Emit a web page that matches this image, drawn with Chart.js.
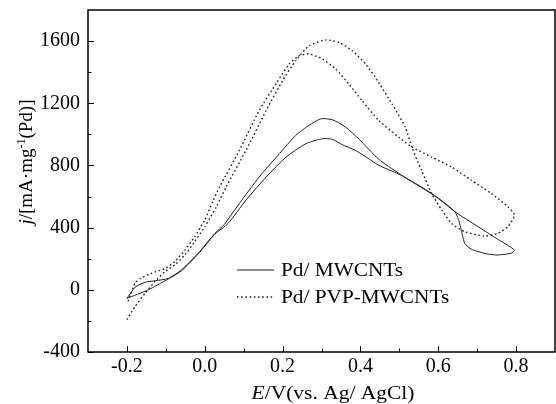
<!DOCTYPE html>
<html>
<head>
<meta charset="utf-8">
<script src="https://cdn.jsdelivr.net/npm/chart.js@4"></script>
<style>
  html, body { margin: 0; padding: 0; background: #fff; }
  canvas { display: block; }
</style>
</head>
<body>
<canvas id="cvChart" width="556" height="404"></canvas>
<script>
// tick labels
const eTicks = [-0.2, 0, 0.2, 0.4, 0.6, 0.8];
const jTicks = [-400, 0, 400, 800, 1200, 1600];
const eMinor = [-0.1, 0.1, 0.3, 0.5, 0.7];
const jMinor = [-200, 200, 600, 1000, 1400];

const seriesNames = ["Pd/ MWCNTs", "Pd/ PVP-MWCNTs"];

// Pd/MWCNTs loop (potential in V, current density)
const mwE = [-0.2, -0.179, -0.153, -0.128, -0.094, -0.06, -0.017, 0.026, 0.05, 0.089, 0.14, 0.192, 0.234, 0.268, 0.298, 0.328, 0.362, 0.396, 0.447, 0.498, 0.55, 0.6, 0.643, 0.655, 0.668, 0.685, 0.702, 0.728, 0.753, 0.787, 0.796, 0.75, 0.7, 0.643, 0.62, 0.583, 0.55, 0.498, 0.447, 0.421, 0.387, 0.353, 0.328, 0.302, 0.26, 0.209, 0.158, 0.106, 0.06, 0.026, -0.017, -0.06, -0.098, -0.145, -0.2];
const mwJ = [-55, 17, 49, 58, 73, 128, 235, 363, 420, 556, 726, 876, 994, 1058, 1100, 1094, 1047, 970, 840, 750, 668, 590, 502, 427, 299, 262, 246, 230, 224, 235, 256, 330, 410, 502, 548, 620, 672, 745, 801, 844, 897, 934, 968, 972, 940, 854, 726, 577, 427, 358, 230, 122, 64, 0, -55];

// Pd/PVP-MWCNTs loop
const pvpE = [-0.2, -0.179, -0.153, -0.128, -0.102, -0.077, -0.051, -0.026, 0, 0.03, 0.055, 0.106, 0.158, 0.2, 0.234, 0.268, 0.311, 0.345, 0.379, 0.413, 0.438, 0.481, 0.515, 0.532, 0.557, 0.583, 0.609, 0.634, 0.668, 0.719, 0.753, 0.779, 0.796, 0.779, 0.736, 0.685, 0.634, 0.583, 0.532, 0.498, 0.447, 0.404, 0.37, 0.336, 0.302, 0.268, 0.243, 0.217, 0.183, 0.14, 0.089, 0.038, 0.022, 0, -0.026, -0.051, -0.077, -0.102, -0.136, -0.166, -0.179, -0.191, -0.197];
const pvpJ = [-192, -107, -21, 53, 117, 160, 224, 310, 406, 534, 662, 897, 1154, 1346, 1474, 1570, 1607, 1592, 1538, 1453, 1367, 1197, 1047, 919, 769, 620, 513, 428, 374, 346, 363, 406, 481, 534, 620, 705, 790, 854, 919, 983, 1090, 1218, 1325, 1421, 1485, 1517, 1506, 1453, 1325, 1154, 897, 662, 577, 449, 342, 256, 182, 137, 107, 72, 43, -32, -75];

const serif = "'Liberation Serif', 'Times New Roman', serif";

function toPoints(xs, ys) {
    return xs.map((x, i) => ({ x: x, y: ys[i] }));
}

// the source figure's text is a bit wider than the font, so stretch it
function wideText(ctx, text, x, y, sx) {
    ctx.save();
    ctx.translate(x, y);
    ctx.scale(sx, 1);
    ctx.fillText(text, 0, 0);
    ctx.restore();
}

const framePlugin = {
    id: 'frame',
    afterDraw(chart) {
        const ctx = chart.ctx;
        const a = chart.chartArea;
        const xs = chart.scales.x;
        const ys = chart.scales.y;
        ctx.save();
        ctx.strokeStyle = '#000';
        ctx.lineWidth = 1.5;
        ctx.strokeRect(a.left, a.top, a.right - a.left, a.bottom - a.top);

        // inward ticks
        ctx.lineWidth = 1;
        ctx.beginPath();
        eTicks.forEach(v => {
            let px = Math.round(xs.getPixelForValue(v)) + 0.5;
            ctx.moveTo(px, a.bottom); ctx.lineTo(px, a.bottom - 6);
        });
        eMinor.forEach(v => {
            let px = Math.round(xs.getPixelForValue(v)) + 0.5;
            ctx.moveTo(px, a.bottom); ctx.lineTo(px, a.bottom - 3.5);
        });
        jTicks.forEach(v => {
            let py = Math.round(ys.getPixelForValue(v)) + 0.5;
            ctx.moveTo(a.left, py); ctx.lineTo(a.left + 6, py);
        });
        jMinor.forEach(v => {
            let py = Math.round(ys.getPixelForValue(v)) + 0.5;
            ctx.moveTo(a.left, py); ctx.lineTo(a.left + 3.5, py);
        });
        ctx.stroke();

        // legend
        ctx.fillStyle = '#000';
        ctx.font = '19px ' + serif;
        ctx.textBaseline = 'middle';
        chart.data.datasets.forEach((ds, i) => {
            let y = a.top + 260 + i * 27;
            ctx.strokeStyle = ds.borderColor;
            ctx.lineWidth = ds.borderWidth;
            ctx.setLineDash(ds.borderDash || []);
            ctx.beginPath();
            ctx.moveTo(a.left + 149, y);
            ctx.lineTo(a.left + 186, y);
            ctx.stroke();
            ctx.setLineDash([]);
            wideText(ctx, ds.label, a.left + 193, y + 1, 1.12);
        });

        // x title
        ctx.textBaseline = 'alphabetic';
        const sx = 1.13;
        let xt1 = 'E', xt2 = '/V(vs. Ag/ AgCl)';
        ctx.font = 'italic 19px ' + serif;
        let w1 = ctx.measureText(xt1).width * sx;
        ctx.font = '19px ' + serif;
        let w2 = ctx.measureText(xt2).width * sx;
        let xs0 = 333 - (w1 + w2) / 2;
        ctx.font = 'italic 19px ' + serif;
        wideText(ctx, xt1, xs0, 399, sx);
        ctx.font = '19px ' + serif;
        wideText(ctx, xt2, xs0 + w1, 399, sx);

        // y title
        const parts = [
            { t: 'j', f: 'italic 19px ' + serif, dy: 0 },
            { t: '/[mA·mg', f: '19px ' + serif, dy: 0 },
            { t: '-1', f: '12px ' + serif, dy: -7 },
            { t: '(Pd)]', f: '19px ' + serif, dy: 0 }
        ];
        let total = 0;
        parts.forEach(p => { ctx.font = p.f; p.w = ctx.measureText(p.t).width; total += p.w; });
        ctx.translate(32, 162 + total / 2);
        ctx.rotate(-Math.PI / 2);
        let cx = 0;
        parts.forEach(p => {
            ctx.font = p.f;
            ctx.fillText(p.t, cx, p.dy);
            cx += p.w;
        });
        ctx.restore();
    }
};

new Chart(document.getElementById('cvChart'), {
    type: 'line',
    data: {
        datasets: [{
            label: seriesNames[0],
            data: toPoints(mwE, mwJ),
            borderColor: '#222',
            borderWidth: 1,
            pointRadius: 0,
            tension: 0.2,
            fill: false
        }, {
            label: seriesNames[1],
            data: toPoints(pvpE, pvpJ),
            borderColor: '#222',
            borderWidth: 1.4,
            borderDash: [1.6, 2.6],
            pointRadius: 0,
            tension: 0.2,
            fill: false
        }]
    },
    options: {
        responsive: false,
        animation: false,
        devicePixelRatio: 1,
        layout: { padding: { top: 10, right: 1, left: 0, bottom: 0 } },
        plugins: { legend: { display: false }, tooltip: { enabled: false } },
        scales: {
            x: {
                type: 'linear',
                min: -0.3,
                max: 0.9,
                afterBuildTicks: s => { s.ticks = eTicks.map(v => ({ value: v })); },
                afterFit: s => { s.height = 52; s.paddingLeft = 0; s.paddingRight = 0; },
                grid: { display: false, drawTicks: false },
                border: { display: false },
                ticks: {
                    color: '#000',
                    font: { family: serif, size: 20 },
                    padding: 3,
                    maxRotation: 0,
                    autoSkip: false,
                    callback: v => v.toFixed(1)
                }
            },
            y: {
                type: 'linear',
                min: -400,
                max: 1800,
                afterBuildTicks: s => { s.ticks = jTicks.map(v => ({ value: v })); },
                afterFit: s => { s.width = 88; s.paddingTop = 0; s.paddingBottom = 0; },
                grid: { display: false, drawTicks: false },
                border: { display: false },
                ticks: {
                    color: '#000',
                    font: { family: serif, size: 20 },
                    padding: 8,
                    autoSkip: false,
                    callback: v => String(v)
                }
            }
        }
    },
    plugins: [framePlugin]
});
</script>
</body>
</html>
